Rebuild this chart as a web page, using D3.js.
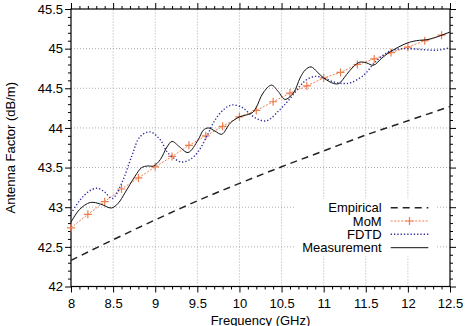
<!DOCTYPE html>
<html>
<head>
<meta charset="utf-8">
<script src="https://cdn.jsdelivr.net/npm/d3@7"></script>
<style>
  body { margin: 0; background: #fff; }
  svg { display: block; font-family: "Liberation Sans", Arial, sans-serif; }
</style>
</head>
<body>
<div id="vis"></div>
<script>
// series
var empFreq = [8, 8.5, 9, 9.5, 10, 10.5, 11, 11.5, 12, 12.5];
var empVal  = [42.33, 42.59, 42.84, 43.08, 43.30, 43.51, 43.71, 43.91, 44.09, 44.27];

var momFreq = [8, 8.2, 8.4, 8.6, 8.8, 9, 9.2, 9.4, 9.6, 9.8, 10, 10.2, 10.4, 10.6, 10.8,
               11, 11.2, 11.4, 11.6, 11.8, 12, 12.2, 12.4, 12.5];
var momVal  = [42.74, 42.91, 43.07, 43.23, 43.37, 43.51, 43.64, 43.78, 43.90, 44.02, 44.14,
               44.22, 44.33, 44.44, 44.53, 44.63, 44.70, 44.80, 44.87, 44.95, 45.02,
               45.10, 45.17, 45.21];

var fdtdFreq = [8, 8.1, 8.2, 8.31, 8.4, 8.49, 8.6, 8.72, 8.82, 8.94, 9.06, 9.14, 9.22, 9.31,
                9.41, 9.51, 9.61, 9.71, 9.81, 9.91, 10.03, 10.1, 10.2, 10.32, 10.48, 10.6,
                10.72, 10.8, 10.9, 11, 11.12, 11.23, 11.32, 11.47, 11.63, 11.79, 11.95,
                12.15, 12.34, 12.5];
var fdtdVal  = [42.92, 43.08, 43.19, 43.24, 43.19, 43.11, 43.30, 43.64, 43.89, 43.95, 43.85,
                43.70, 43.62, 43.57, 43.60, 43.70, 43.89, 44.10, 44.23, 44.29, 44.26, 44.20,
                44.12, 44.09, 44.23, 44.37, 44.53, 44.61, 44.65, 44.63, 44.58, 44.56, 44.57,
                44.66, 44.85, 44.97, 45.00, 44.99, 44.98, 45.01];

var measFreq = [8, 8.1, 8.23, 8.35, 8.48, 8.56, 8.64, 8.76, 8.84, 8.91, 8.98, 9.06, 9.14,
                9.2, 9.29, 9.39, 9.51, 9.57, 9.63, 9.71, 9.79, 9.89, 10, 10.07, 10.15, 10.2,
                10.28, 10.38, 10.46, 10.54, 10.64, 10.72, 10.78, 10.85, 10.92, 11, 11.12,
                11.18, 11.27, 11.35, 11.43, 11.51, 11.59, 11.69, 11.79, 11.99, 12.1, 12.26,
                12.5];
var measVal  = [42.81, 42.97, 43.06, 43.04, 42.99, 43.05, 43.18, 43.39, 43.50, 43.52, 43.52,
                43.60, 43.76, 43.83, 43.76, 43.69, 43.85, 43.97, 44.00, 43.96, 43.92, 44.06,
                44.14, 44.16, 44.19, 44.26, 44.44, 44.54, 44.46, 44.36, 44.44, 44.63, 44.73,
                44.77, 44.71, 44.63, 44.56, 44.56, 44.67, 44.77, 44.83, 44.82, 44.79, 44.88,
                44.96, 45.07, 45.10, 45.12, 45.21];

var xTicks = [8, 8.5, 9, 9.5, 10, 10.5, 11, 11.5, 12, 12.5];
var yTicks = [42, 42.5, 43, 43.5, 44, 44.5, 45, 45.5];
var legendNames = ['Empirical', 'MoM', 'FDTD', 'Measurement'];

var width = 466, height = 326;
var margin = { left: 71, right: 16, top: 9, bottom: 39.5 };

var svg = d3.select('#vis').append('svg')
  .attr('width', width)
  .attr('height', height);

var x = d3.scaleLinear().domain([8, 12.5]).range([margin.left, width - margin.right]);
var y = d3.scaleLinear().domain([42, 45.5]).range([height - margin.bottom, margin.top]);

var orange = '#f07d4e';
var blue = '#2e2e9c';

// grid
svg.append('g').selectAll('line').data(xTicks.slice(1, -1)).enter().append('line')
  .attr('x1', function (d) { return x(d); }).attr('x2', function (d) { return x(d); })
  .attr('y1', y(42)).attr('y2', y(45.5))
  .attr('stroke', '#999').attr('stroke-width', 0.8).attr('stroke-dasharray', '1,2');
svg.append('g').selectAll('line').data(yTicks.slice(1, -1)).enter().append('line')
  .attr('y1', function (d) { return y(d); }).attr('y2', function (d) { return y(d); })
  .attr('x1', x(8)).attr('x2', x(12.5))
  .attr('stroke', '#999').attr('stroke-width', 0.8).attr('stroke-dasharray', '1,2');

// axes with ticks pointing inward, mirrored on all sides
function tickFmt(d) { return d3.format('')(d); }
var minorX = d3.range(80, 126).map(function (v) { return v / 10; }).filter(function (v) { return Math.round(v * 10) % 5 !== 0; });
var minorY = d3.range(420, 456).map(function (v) { return v / 10; }).filter(function (v) { return Math.round(v * 10) % 5 !== 0; });

function addAxis(axisFn, scale, vals, size, transform, labels) {
  var g = svg.append('g')
    .attr('transform', transform)
    .call(axisFn(scale).tickValues(vals).tickSize(size).tickFormat(labels ? tickFmt : ''));
  g.select('.domain').remove();
  g.selectAll('line').attr('stroke', '#000');
  return g;
}
var bx = addAxis(d3.axisTop, x, xTicks, -6, 'translate(0,' + y(42) + ')', true);
bx.selectAll('text').attr('y', 17).attr('dy', '0.35em').style('font-size', '13px').attr('fill', '#000');
addAxis(d3.axisTop, x, minorX, -3, 'translate(0,' + y(42) + ')', false);
addAxis(d3.axisBottom, x, xTicks, -6, 'translate(0,' + y(45.5) + ')', false);
addAxis(d3.axisBottom, x, minorX, -3, 'translate(0,' + y(45.5) + ')', false);
var ly = addAxis(d3.axisRight, y, yTicks, -6, 'translate(' + x(8) + ',0)', true);
ly.selectAll('text').attr('x', -8).attr('text-anchor', 'end').style('font-size', '13px').attr('fill', '#000');
addAxis(d3.axisRight, y, minorY, -3, 'translate(' + x(8) + ',0)', false);
addAxis(d3.axisLeft, y, yTicks, -6, 'translate(' + x(12.5) + ',0)', false);
addAxis(d3.axisLeft, y, minorY, -3, 'translate(' + x(12.5) + ',0)', false);

svg.append('rect')
  .attr('x', x(8)).attr('y', y(45.5))
  .attr('width', x(12.5) - x(8)).attr('height', y(42) - y(45.5))
  .attr('fill', 'none').attr('stroke', '#000').attr('stroke-width', 1.2);

// axis titles
svg.append('text')
  .attr('x', (x(8) + x(12.5)) / 2).attr('y', 324.5)
  .attr('text-anchor', 'middle').style('font-size', '13px')
  .text('Frequency (GHz)');
svg.append('text')
  .attr('transform', 'translate(14.5,' + (y(42) + y(45.5)) / 2 + ') rotate(-90)')
  .attr('text-anchor', 'middle').style('font-size', '13px')
  .text('Antenna Factor (dB/m)');

// series
function pairs(fs, vs) { return fs.map(function (f, i) { return [f, vs[i]]; }); }
var smooth = d3.line().x(function (d) { return x(d[0]); }).y(function (d) { return y(d[1]); })
  .curve(d3.curveCatmullRom.alpha(0.5));
var straight = d3.line().x(function (d) { return x(d[0]); }).y(function (d) { return y(d[1]); });

svg.append('path').datum(pairs(empFreq, empVal))
  .attr('d', smooth).attr('fill', 'none')
  .attr('stroke', '#222').attr('stroke-width', 1.5).attr('stroke-dasharray', '7,5');

svg.append('path').datum(pairs(momFreq, momVal))
  .attr('d', straight).attr('fill', 'none')
  .attr('stroke', orange).attr('stroke-width', 1).attr('stroke-dasharray', '2,1.5');

var momPts = pairs(momFreq, momVal).filter(function (d) { return d[0] <= 12.45; });
svg.append('g').selectAll('path').data(momPts).enter().append('path')
  .attr('d', function (d) {
    var cx = x(d[0]), cy = y(d[1]);
    return 'M' + (cx - 4) + ',' + cy + 'H' + (cx + 4) + 'M' + cx + ',' + (cy - 4) + 'V' + (cy + 4);
  })
  .attr('stroke', orange).attr('stroke-width', 1.2);

svg.append('path').datum(pairs(fdtdFreq, fdtdVal))
  .attr('d', smooth).attr('fill', 'none')
  .attr('stroke', blue).attr('stroke-width', 1.4).attr('stroke-dasharray', '1.3,2');

svg.append('path').datum(pairs(measFreq, measVal))
  .attr('d', smooth).attr('fill', 'none')
  .attr('stroke', '#111').attr('stroke-width', 1);

// legend (opaque box hides grid)
svg.append('rect')
  .attr('x', 296).attr('y', 199).attr('width', 141).attr('height', 57)
  .attr('fill', '#fff');

var legY = [207.7, 221, 234.3, 247.7];
var leg = svg.append('g');
legendNames.forEach(function (name, i) {
  leg.append('text')
    .attr('x', 381.7).attr('y', legY[i]).attr('dy', '0.35em')
    .attr('text-anchor', 'end').style('font-size', '13px')
    .text(name);
  var ln = leg.append('line')
    .attr('x1', 390.7).attr('x2', 428.3)
    .attr('y1', legY[i]).attr('y2', legY[i])
    .attr('fill', 'none');
  if (i === 0) ln.attr('stroke', '#222').attr('stroke-width', 1.5).attr('stroke-dasharray', '7,5');
  if (i === 1) {
    ln.attr('stroke', orange).attr('stroke-width', 1).attr('stroke-dasharray', '2,1.5');
    leg.append('path')
      .attr('d', 'M405.5,' + legY[i] + 'H413.5M409.5,' + (legY[i] - 4) + 'V' + (legY[i] + 4))
      .attr('stroke', orange).attr('stroke-width', 1.2);
  }
  if (i === 2) ln.attr('stroke', blue).attr('stroke-width', 1.4).attr('stroke-dasharray', '1.3,2');
  if (i === 3) ln.attr('stroke', '#111').attr('stroke-width', 1);
});
</script>
</body>
</html>
